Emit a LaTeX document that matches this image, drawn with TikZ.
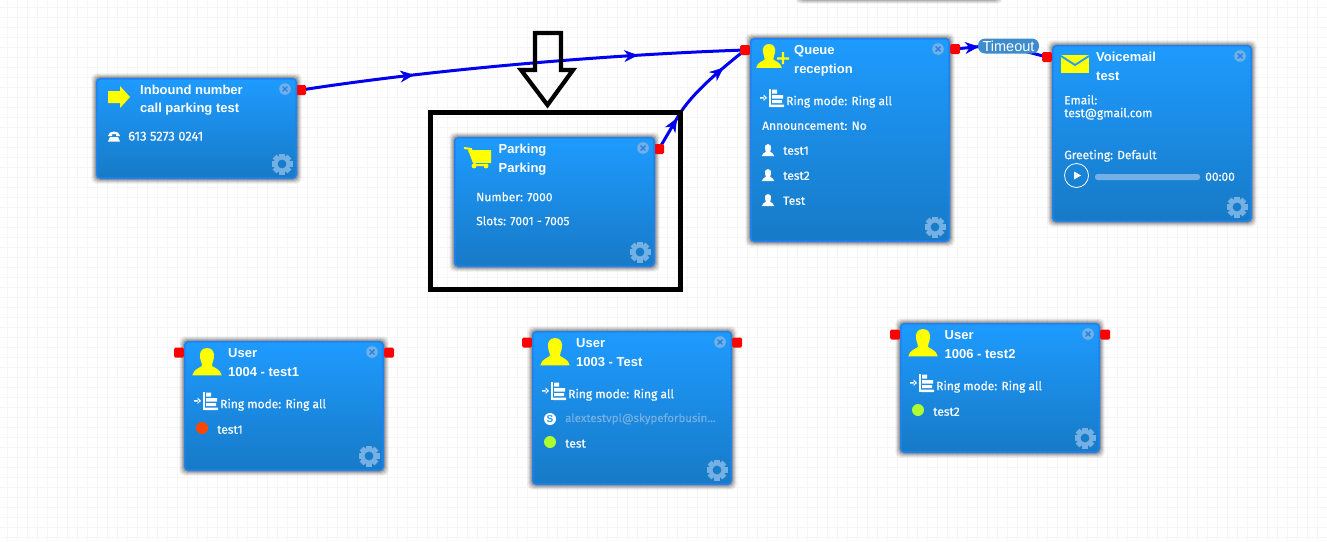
\documentclass[tikz,border=0pt]{standalone}
\usepackage{fontspec}
\setmainfont[FakeBold=0.25]{Fira Sans}
\newfontfamily\titlefont{Liberation Sans}
\usetikzlibrary{arrows.meta,decorations.markings,shapes.geometric}
\definecolor{cardtop}{HTML}{1E9BFF}
\definecolor{cardbot}{HTML}{177AC6}
\definecolor{cardedge}{HTML}{1F82F0}
\definecolor{faint}{HTML}{74B0E4}
\definecolor{iconyel}{HTML}{FFFF00}
\definecolor{tagblue}{HTML}{3E8CCC}
\definecolor{wire}{HTML}{0000F0}
\definecolor{gridc}{HTML}{F6F6F6}
\definecolor{dotgreen}{HTML}{ADFF2F}
\definecolor{dotred}{HTML}{FF4500}
\tikzset{
  x=1pt,y=-1pt,
  card/.style={draw=cardedge,line width=1.6pt,rounded corners=3.5pt,top color=cardtop,bottom color=cardbot},
  port/.style={fill=red,rounded corners=1.5pt,minimum width=10pt,minimum height=10pt,inner sep=0pt},
  title/.style={anchor=west,text=white,inner sep=0pt,yshift=-1.5pt,font=\titlefont\bfseries\fontsize{13}{15}\selectfont},
  body/.style={anchor=west,text=white,inner sep=0pt,yshift=.25pt,font=\fontsize{12}{14}\selectfont},
  flow/.style={draw=wire,line width=3pt},
  midtip/.style={postaction={decorate,decoration={markings,mark=at position #1 with {\arrow[wire,line width=.8pt]{Stealth[length=14pt,width=12pt,inset=4.5pt]}}}}},
  frame/.style={draw=black,line width=5pt},
  hollow/.style={draw=black,line width=4.2pt,miter limit=4,fill=none},
}
\newcommand{\personicon}[4]{%
  \begin{scope}[shift={(#1,#2)},scale=#3]
    \fill[#4] (0,0) .. controls (-6,0) and (-8,5) .. (-7,10) .. controls (-6.5,14) and (-5,15) .. (-5,18)
      .. controls (-6,20) and (-14,21) .. (-15,28) -- (15,28) .. controls (14,21) and (6,20) .. (5,18)
      .. controls (5,15) and (6.5,14) .. (7,10) .. controls (8,5) and (6,0) .. (0,0) -- cycle;
  \end{scope}}
\newcommand{\gearicon}[2]{%
  \begin{scope}[shift={(#1,#2)}]
    \foreach \a in {0,45,...,315}{\fill[faint,rotate=\a] (-2.8,-10.5) rectangle (2.8,0);}
    \fill[faint] (0,0) circle (8.2);
    \fill[cardbot!92!cardtop] (0,0) circle (4.4);
  \end{scope}}
\newcommand{\closeicon}[2]{%
  \begin{scope}[shift={(#1,#2)}]
    \fill[faint] (0,0) circle (5.8);
    \draw[cardedge,line width=1.4pt] (-2.4,-2.4) -- (2.4,2.4) (-2.4,2.4) -- (2.4,-2.4);
  \end{scope}}
\newcommand{\ringicon}[2]{%
  \begin{scope}[shift={(#1,#2)}]
    \fill[white] (0,8) rectangle (5,9.6) (3.6,5.6) -- (7,8.8) -- (3.6,12) -- cycle;
    \fill[white] (8.5,0) rectangle (10.7,18);
    \fill[white] (12,.5) rectangle (17,4.5) (12,6) rectangle (23,9.5) (12,11) rectangle (22,14) (11,15.5) rectangle (24,18);
  \end{scope}}
\newcommand{\smallperson}[2]{\personicon{#1}{#2}{.43}{white}}
\newcommand{\statusdot}[3]{\fill[#3] (#1,#2) circle (6);}
\newcommand{\softshadow}[4]{%
  \foreach \s/\o in {5/.04,4/.07,3/.09,2/.12,1/.14,0/.16}{\fill[black,opacity=\o,rounded corners=5pt] ({#1-\s},{#2-\s}) rectangle ({#3+\s},{#4+\s});}}
\newcommand{\card}[5]{%
  \node[card,inner sep=0pt,minimum width={#4-#2-1.6},minimum height={#5-#3-1.6}] (#1) at ({(#2+#4)/2},{(#3+#5)/2}) {};
  \gearicon{#4-15}{#5-15}
  \closeicon{#4-12}{#3+11}
}
\begin{document}
\begin{tikzpicture}
\useasboundingbox (0,0) rectangle (1327,541);
\fill[white] (0,0) rectangle (1327,541);
\foreach \i in {0,...,132}{\draw[gridc,line width=1pt] ({\i*10+7},0) -- ({\i*10+7},541);}
\foreach \j in {0,...,53}{\draw[gridc,line width=1pt] (0,{\j*10+7}) -- (1327,{\j*10+7});}

% shadows
\softshadow{800}{-30}{998}{-1}
\softshadow{96}{78}{297}{179}
\softshadow{454}{137}{655}{267}
\softshadow{750}{38}{950}{242}
\softshadow{1052}{45}{1252}{222}
\softshadow{184}{341}{384}{471}
\softshadow{532}{331}{732}{485}
\softshadow{900}{323}{1100}{453}

\node[card,minimum width=197pt,minimum height=20pt,inner sep=0pt] (topcard) at (899,-14) {};

% port anchors for the connectors
\coordinate (pinC) at (301,90);
\coordinate (pparkC) at (659,149);
\coordinate (qinC) at (745,50);
\coordinate (qoutC) at (955,49);
\coordinate (vinC) at (1047,57);

% connectors
\path[flow,midtip=.256,midtip=.76] (pinC) .. controls (430,70) and (600,55) .. (qinC);
\path[flow,midtip=.27,midtip=.79] (pparkC) -- (676,120) .. controls (688,98) and (710,78) .. (qinC);
\coordinate (tagleft) at (985,46);
\path[flow,midtip=.8] (qoutC) -- (tagleft);
\draw[flow] (tagleft) -- (1020,50) -- (vinC);

% ports
\node[port] (pin) at (pinC) {};
\node[port] (ppark) at (pparkC) {};
\node[port] (qin) at (qinC) {};
\node[port] (qout) at (qoutC) {};
\node[port] (vin) at (vinC) {};
\node[port] (u4l) at (179,352.5) {};
\node[port] (u4r) at (389,352.5) {};
\node[port] (u3l) at (527,342.5) {};
\node[port] (u3r) at (737,342.5) {};
\node[port] (u6l) at (895,334.5) {};
\node[port] (u6r) at (1105,334.5) {};

% cards
\card{inbound}{96}{78}{297}{179}
\card{parking}{454}{137}{655}{267}
\card{queue}{750}{38}{950}{242}
\card{voicemail}{1052}{45}{1252}{222}
\card{user4}{184}{341}{384}{471}
\card{user3}{532}{331}{732}{485}
\card{user6}{900}{323}{1100}{453}

\node[fill=tagblue,rounded corners=7pt,text=white,minimum width=61pt,minimum height=15pt,inner sep=0pt,font=\titlefont\fontsize{14.5}{15}\selectfont] (timeout) at (1008.5,46) {Timeout};

% inbound
\fill[iconyel] (108,91) -- (120,91) -- (120,86) -- (130,97) -- (120,108) -- (120,103) -- (108,103) -- cycle;
\node[title] (t1) at (140,88) {Inbound number};
\node[title] (t2) at (140,107.5) {call parking test};
\fill[white] (108,136) .. controls (108,130) and (120,130) .. (120,136) -- (116,136) -- (116,134) -- (112,134) -- (112,136) -- cycle;
\fill[white] (110,137) -- (118,137) -- (120,141.5) -- (108,141.5) -- cycle;
\node[body,font=\fontsize{13}{14}\selectfont] (t3) at (128,136.5) {613 5273 0241};

% parking
\draw[iconyel,line width=2pt] (464,148) -- (471,149) -- (475,165) -- (488,165);
\fill[iconyel] (468,150) -- (491,150) -- (491,163) -- (473,163) -- cycle;
\fill[iconyel] (474,166) circle (2.4) (486,166) circle (2.4);
\node[title] (t4) at (498.5,148.5) {Parking};
\node[title] (t5) at (498.5,167.5) {Parking};
\node[body] (t6) at (476,197) {Number: 7000};
\node[body] (t7) at (476,221) {Slots: 7001 - 7005};

% queue
\personicon{769}{44}{.85}{iconyel}
\fill[iconyel] (777,57.4) rectangle (789,59.6) (781.9,52) rectangle (784.1,64);
\node[title] (t8) at (794,49.5) {Queue};
\node[title] (t9) at (794,68.5) {reception};
\ringicon{760}{89}
\node[body] (t10) at (786,102) {Ring mode: Ring all};
\node[body] (t11) at (762,126) {Announcement: No};
\smallperson{768}{144}
\node[body] (t12) at (783,151) {test1};
\smallperson{768}{169}
\node[body] (t13) at (783,176) {test2};
\smallperson{768}{194}
\node[body] (t14) at (783,201) {Test};

% voicemail
\fill[iconyel] (1061,55) rectangle (1089,73);
\draw[cardtop,line width=1.8pt] (1061,56) -- (1075,65) -- (1089,56);
\node[title] (t15) at (1096,55.5) {Voicemail};
\node[title] (t16) at (1096,74.5) {test};
\node[body] (t17) at (1064,100) {Email:};
\node[body] (t18) at (1064,114) {test@gmail.com};
\node[body] (t19) at (1064,156) {Greeting: Default};
\node[draw=white,line width=.8pt,circle,minimum size=24pt,inner sep=0pt] (play) at (1076.5,175.5) {};
\fill[white] (1074,171.5) -- (1081,175.5) -- (1074,179.5) -- cycle;
\fill[faint,rounded corners=2.5pt] (1095,174) rectangle (1200,180);
\node[body] (t20) at (1205,177) {00:00};

% user 1004
\personicon{207}{348}{.98}{iconyel}
\node[title] (t21) at (228,351.5) {User};
\node[title] (t22) at (228,370.5) {1004 - test1};
\ringicon{194}{392}
\node[body] (t23) at (220,405) {Ring mode: Ring all};
\statusdot{202}{428}{dotred}
\node[body] (t24) at (217,430) {test1};

% user 1003
\personicon{555}{338}{.98}{iconyel}
\node[title] (t25) at (576,341.5) {User};
\node[title] (t26) at (576,360.5) {1003 - Test};
\ringicon{542}{382}
\node[body] (t27) at (568,395) {Ring mode: Ring all};
\fill[white] (550,419) circle (6);
\node[text=cardtop,inner sep=0pt,font=\titlefont\bfseries\fontsize{10}{10}\selectfont] (skype) at (550,419) {S};
\node[body,text=faint,font=\fontsize{11.5}{14}\selectfont] (t28) at (565,419) {alextestvpl@skypeforbusin...};
\statusdot{550}{442}{dotgreen}
\node[body] (t29) at (565,444) {test};

% user 1006
\personicon{923}{329}{.98}{iconyel}
\node[title] (t30) at (944.5,333.5) {User};
\node[title] (t31) at (944.5,352.5) {1006 - test2};
\ringicon{910}{374}
\node[body] (t32) at (936,387) {Ring mode: Ring all};
\statusdot{918}{410}{dotgreen}
\node[body] (t33) at (933,412) {test2};

% black annotation
\node[frame,minimum width=250pt,minimum height=177pt,inner sep=0pt] (hilite) at (555.5,201) {};
\node[inner sep=0pt,minimum size=0pt] (arrowtip) at (547.5,105) {};
\draw[hollow] (535,33) -- (561,33) -- (561,70) -- (573,70) -- (arrowtip.center) -- (521,70) -- (535,70) -- cycle;
\end{tikzpicture}
\end{document}
